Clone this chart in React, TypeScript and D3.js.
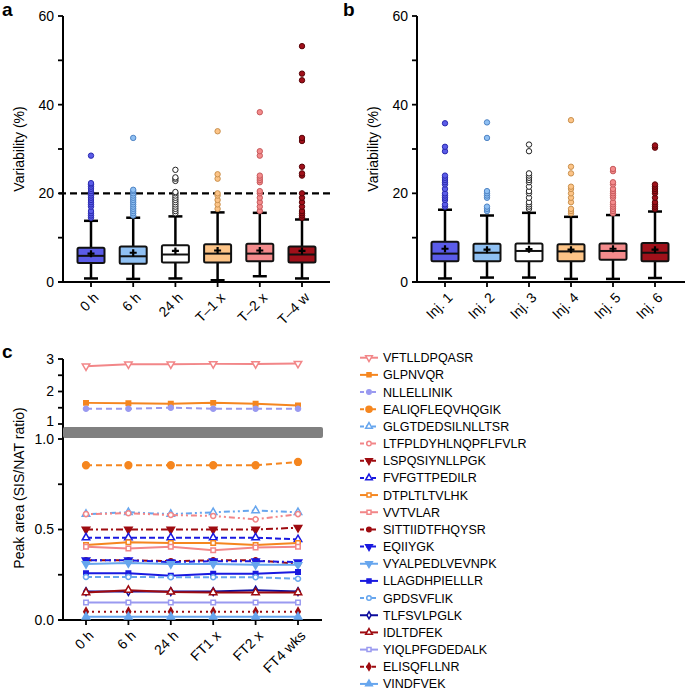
import * as d3 from "d3";

const FONT = "'Liberation Sans', Arial, Helvetica, sans-serif";

// panel a / b: box plot categories, colours and summary stats
const catsA = ["0 h", "6 h", "24 h", "T\u20131 x", "T\u20132 x", "T\u20134 w"];
const catsB = ["Inj. 1", "Inj. 2", "Inj. 3", "Inj. 4", "Inj. 5", "Inj. 6"];
const boxFill = ["#5b5ce8", "#8fc0f3", "#ffffff", "#fdc487", "#f48b8c", "#a0101a"];
const dotStroke = ["#2c2cb0", "#4f84c4", "#222222", "#c9914f", "#c65a5c", "#5a0408"];

// [low whisker, q1, median, q3, high whisker, mean]
const statsA = [
  [0.8, 4.3, 5.9, 7.7, 13.8, 6.4],
  [0.7, 4.1, 5.8, 8.0, 14.5, 6.6],
  [0.8, 4.4, 6.2, 8.3, 14.8, 7.0],
  [0.4, 4.4, 6.4, 8.5, 15.7, 7.1],
  [1.3, 4.7, 6.4, 8.6, 15.6, 7.1],
  [0.8, 4.4, 6.2, 8.0, 14.1, 7.0],
];
const outliersA = [
  [14.5, 15, 15.5, 16, 17, 17.5, 18, 18.5, 19, 19.5, 20, 20.5, 21, 21.5, 22, 22.3, 28.5],
  [15, 15.5, 16, 16.5, 17, 17.5, 18, 18.5, 19, 19.5, 20, 20.5, 20.8, 32.5],
  [15.5, 16, 16.5, 17, 17.5, 18, 18.5, 19, 19.5, 20, 20.3, 22.8, 23.3, 23.6, 25.3],
  [16.5, 17.5, 18.5, 19.5, 20, 23.3, 24.3, 34],
  [16, 17, 18, 19, 20, 20.5, 22.5, 23, 23.5, 24, 28.5, 29.5, 38.3],
  [14.5, 15, 15.5, 16, 17, 18, 19, 20, 24, 24.5, 26, 31.8, 32.5, 45.5, 47, 53.2],
];
const statsB = [
  [0.8, 4.7, 6.4, 9.1, 16.3, 7.5],
  [1.0, 4.7, 6.6, 8.6, 15.0, 7.3],
  [1.0, 4.7, 7.0, 8.7, 15.6, 7.4],
  [0.7, 4.7, 6.9, 8.5, 14.7, 7.3],
  [0.7, 5.0, 7.0, 8.7, 15.1, 7.5],
  [0.9, 4.7, 6.6, 8.8, 15.9, 7.3],
];
const outliersB = [
  [17, 17.5, 18.5, 19, 19.5, 20, 21, 22, 22.5, 23, 23.5, 24, 29.5, 30.5, 35.8],
  [16, 16.5, 17, 19, 19.5, 20, 20.5, 32.5, 36],
  [16.5, 17, 17.5, 18, 19, 20, 20.5, 21.5, 22.5, 23, 23.5, 24, 24.5, 29.5, 31],
  [15.5, 16, 16.5, 18, 19, 20, 21, 21.5, 24.5, 26, 36.5],
  [15.5, 16, 16.5, 17, 17.5, 18, 19, 19.5, 20, 20.5, 21, 22, 22.5, 25, 25.5],
  [16.5, 17, 17.5, 18, 19, 20, 20.5, 21, 21.5, 22, 30.3, 30.8],
];

// panel c: peptide lines
const catsC = ["0 h", "6 h", "24 h", "FT1 x", "FT2 x", "FT4 wks"];
const PINK = "#f28688", ORANGE = "#f5861f", LAV = "#9a9af0", LBLUE = "#67a6ee",
  DRED = "#9e0b10", BLUE = "#1a1ae0", NAVY = "#0c0c9c";
const peptides = ["VFTLLDPQASR", "GLPNVQR", "NLLELLINIK", "EALIQFLEQVHQGIK", "GLGTDEDSILNLLTSR",
  "LTFPLDYHLNQPFLFVLR", "LSPQSIYNLLPGK", "FVFGTTPEDILR", "DTPLTLTVLHK", "VVTVLAR",
  "SITTIIDTFHQYSR", "EQIIYGK", "VYALPEDLVEVNPK", "LLAGDHPIELLLR", "GPDSVFLIK",
  "TLFSVLPGLK", "IDLTDFEK", "YIQLPFGDEDALK", "ELISQFLLNR", "VINDFVEK"];
const pepColor = [PINK, ORANGE, LAV, ORANGE, LBLUE, PINK, DRED, BLUE, ORANGE, PINK,
  DRED, BLUE, LBLUE, BLUE, LBLUE, NAVY, DRED, LAV, DRED, LBLUE];
const pepDash = ["", "", "6 4", "6 4", "2 3 6 3 2 3", "2 3 2 3 6 3", "7 3 2 3", "6 3", "", "",
  "6 3 2 3", "2 3 6 3", "", "", "6 3", "", "", "", "2 4", ""];
const pepSymbol = ["tri-down", "square", "circle", "circle", "tri", "circle", "tri-down", "tri", "square", "square",
  "circle", "tri-down", "tri-down", "square", "circle", "diamond", "tri", "square", "diamond", "tri"];
const pepFilled = [false, true, true, true, false, false, true, false, false, false,
  true, true, true, true, false, false, false, false, true, true];
const pepValues = [
  [2.78, 2.84, 2.84, 2.85, 2.85, 2.86],
  [1.65, 1.64, 1.62, 1.65, 1.62, 1.57],
  [1.47, 1.47, 1.5, 1.47, 1.47, 1.47],
  [0.855, 0.855, 0.855, 0.855, 0.855, 0.873],
  [0.585, 0.595, 0.585, 0.595, 0.605, 0.595],
  [0.585, 0.59, 0.58, 0.575, 0.556, 0.585],
  [0.5, 0.5, 0.5, 0.5, 0.5, 0.51],
  [0.455, 0.455, 0.455, 0.455, 0.455, 0.445],
  [0.415, 0.43, 0.425, 0.425, 0.415, 0.425],
  [0.405, 0.395, 0.405, 0.385, 0.4, 0.405],
  [0.33, 0.33, 0.325, 0.33, 0.33, 0.31],
  [0.33, 0.33, 0.32, 0.325, 0.325, 0.32],
  [0.31, 0.315, 0.31, 0.31, 0.305, 0.305],
  [0.258, 0.258, 0.245, 0.255, 0.255, 0.265],
  [0.238, 0.238, 0.236, 0.236, 0.236, 0.228],
  [0.157, 0.157, 0.157, 0.157, 0.165, 0.157],
  [0.152, 0.165, 0.155, 0.152, 0.152, 0.152],
  [0.097, 0.097, 0.097, 0.097, 0.097, 0.097],
  [0.046, 0.046, 0.046, 0.046, 0.046, 0.046],
  [0.018, 0.018, 0.018, 0.018, 0.018, 0.018],
];

const yBox = d3.scaleLinear().domain([0, 60]).range([282, 16]);
const xA = d3.scalePoint<string>().domain(catsA).range([91, 302]);
const xB = d3.scalePoint<string>().domain(catsB).range([445, 655]);
const xC = d3.scalePoint<string>().domain(catsC).range([86, 298]);
const yLow = d3.scaleLinear().domain([0, 1]).range([620, 439]);
const yUp = d3.scaleLinear().domain([1, 3]).range([424, 359]);
const yC = (v: number) => (v > 1.05 ? yUp(v) : yLow(v));

function symPath(kind: string, size: number) {
  const t = kind === "square" ? d3.symbolSquare : kind === "circle" ? d3.symbolCircle
    : kind === "diamond" ? d3.symbolDiamond : d3.symbolTriangle;
  return d3.symbol().type(t).size(size)() || "";
}

function Marker({ x, y, i, scale = 1 }: { x: number; y: number; i: number; scale?: number }) {
  const kind = pepSymbol[i];
  const base = i === 3 ? 36 : kind === "tri" || kind === "tri-down" ? 24 : kind === "diamond" ? 18 : 20;
  const rot = kind === "tri-down" ? " rotate(180)" : "";
  return (
    <path d={symPath(kind, base * scale)} transform={`translate(${x},${y})${rot}`}
      fill={pepFilled[i] ? pepColor[i] : "#fff"} stroke={pepColor[i]} strokeWidth={1.5} />
  );
}

function BoxPanel({ cats, x, stats, outliers, axisX, axisEnd, label, dashed }: any) {
  const bw = 27;
  const ticks = [0, 10, 20, 30, 40, 50, 60];
  return (
    <g>
      <line x1={axisX} x2={axisX} y1={yBox(60)} y2={yBox(0)} stroke="#000" strokeWidth={2} />
      <line x1={axisX - 5} x2={axisEnd} y1={yBox(0)} y2={yBox(0)} stroke="#000" strokeWidth={2} />
      {ticks.map((t) => (
        <g key={t}>
          <line x1={axisX - 5} x2={axisX} y1={yBox(t)} y2={yBox(t)} stroke="#000" strokeWidth={1.8} />
          {t % 20 === 0 && (
            <text x={axisX - 9} y={yBox(t)} dy="0.35em" textAnchor="end" fontSize={14}>{t}</text>
          )}
        </g>
      ))}
      <text transform={`translate(${axisX - 44},${yBox(30)}) rotate(-90)`} textAnchor="middle" dy="0.35em" fontSize={14}>
        Variability (%)
      </text>
      {dashed && (
        <line x1={axisX - 4} x2={axisEnd} y1={yBox(20)} y2={yBox(20)} stroke="#000" strokeWidth={2.2} strokeDasharray="7 4" />
      )}
      {cats.map((c: string, i: number) => {
        const cx = x(c) as number;
        const [lo, q1, med, q3, hi, mean] = stats[i];
        return (
          <g key={c}>
            <line x1={cx} x2={cx} y1={yBox(0)} y2={yBox(0) + 5} stroke="#000" strokeWidth={1.8} />
            <line x1={cx} x2={cx} y1={yBox(lo)} y2={yBox(hi)} stroke="#000" strokeWidth={2.5} />
            <line x1={cx - 7} x2={cx + 7} y1={yBox(lo)} y2={yBox(lo)} stroke="#000" strokeWidth={2.5} />
            <line x1={cx - 7} x2={cx + 7} y1={yBox(hi)} y2={yBox(hi)} stroke="#000" strokeWidth={2.5} />
            <rect x={cx - bw / 2} y={yBox(q3)} width={bw} height={yBox(q1) - yBox(q3)} rx={1.5}
              fill={boxFill[i]} stroke="#111" strokeWidth={2} />
            <line x1={cx - bw / 2} x2={cx + bw / 2} y1={yBox(med)} y2={yBox(med)} stroke="#111" strokeWidth={2} />
            <path d={`M${cx - 3.5},${yBox(mean)}H${cx + 3.5}M${cx},${yBox(mean) - 3.5}V${yBox(mean) + 3.5}`}
              stroke="#000" strokeWidth={2.2} />
            {outliers[i].map((v: number, k: number) => (
              <circle key={k} cx={cx} cy={yBox(v)} r={2.7} fill={boxFill[i]} stroke={dotStroke[i]} strokeWidth={1} />
            ))}
            <text transform={`translate(${cx + 5},${yBox(0) + 13}) rotate(-45)`} textAnchor="end"
              dy="0.35em" fontSize={14}>{c}</text>
          </g>
        );
      })}
      <text x={label.x} y={label.y} fontWeight="bold" fontSize={19}>{label.t}</text>
    </g>
  );
}

function LinePanel() {
  const axisX = 63;
  const line = d3.line<number>().x((_, i) => xC(catsC[i]) as number).y((v) => yC(v));
  const lowTicks = [0, 0.25, 0.5, 0.75, 1.0];
  const upTicks = [1, 1.5, 2, 2.5, 3];
  return (
    <g>
      <text x={2} y={358} fontWeight="bold" fontSize={19}>c</text>
      <line x1={axisX} x2={axisX} y1={yUp(3)} y2={yLow(0)} stroke="#000" strokeWidth={2} />
      <line x1={axisX - 5} x2={322} y1={yLow(0)} y2={yLow(0)} stroke="#000" strokeWidth={2} />
      {lowTicks.map((t) => (
        <g key={"l" + t}>
          <line x1={axisX - 5} x2={axisX} y1={yLow(t)} y2={yLow(t)} stroke="#000" strokeWidth={1.8} />
          {t % 0.5 === 0 && (
            <text x={axisX - 9} y={yLow(t)} dy="0.35em" textAnchor="end" fontSize={14}>{t.toFixed(1)}</text>
          )}
        </g>
      ))}
      {upTicks.map((t) => (
        <g key={"u" + t}>
          <line x1={axisX - 5} x2={axisX} y1={yUp(t)} y2={yUp(t)} stroke="#000" strokeWidth={1.8} />
          {t % 1 === 0 && (
            <text x={axisX - 9} y={yUp(t)} dy={t === 1 ? "0.15em" : "0.35em"} textAnchor="end" fontSize={14}>{t}</text>
          )}
        </g>
      ))}
      <rect x={axisX} y={427} width={260} height={11} rx={2} fill="#808080" />
      <text transform={`translate(19,488) rotate(-90)`} textAnchor="middle" dy="0.35em" fontSize={14}>
        Peak area (SIS/NAT ratio)
      </text>
      {catsC.map((c) => (
        <g key={c}>
          <line x1={xC(c)} x2={xC(c)} y1={yLow(0)} y2={yLow(0) + 5} stroke="#000" strokeWidth={1.8} />
          <text transform={`translate(${(xC(c) as number) + 5},${yLow(0) + 13}) rotate(-45)`} textAnchor="end"
            dy="0.35em" fontSize={14}>{c}</text>
        </g>
      ))}
      {pepValues.map((vals, i) => (
        <g key={peptides[i]}>
          <path d={line(vals) || ""} fill="none" stroke={pepColor[i]} strokeWidth={2}
            strokeDasharray={pepDash[i] || undefined} />
          {vals.map((v, k) => (
            <Marker key={k} x={xC(catsC[k]) as number} y={yC(v)} i={i} />
          ))}
        </g>
      ))}
      {peptides.map((p, i) => {
        const ly = 357.7 + i * 17.17;
        return (
          <g key={"lg" + p}>
            <line x1={360} x2={378} y1={ly} y2={ly} stroke={pepColor[i]} strokeWidth={2}
              strokeDasharray={pepDash[i] ? "4 2" : undefined} />
            <Marker x={369} y={ly} i={i} scale={0.8} />
            <text x={383} y={ly} dy="0.36em" fontSize={12.5}>{p}</text>
          </g>
        );
      })}
    </g>
  );
}

export default function App() {
  return (
    <svg width={685} height={690} style={{ position: "absolute", left: 0, top: 0, background: "#fff" }}
      fontFamily={FONT}>
      <rect width={685} height={690} fill="#fff" />
      <BoxPanel cats={catsA} x={xA} stats={statsA} outliers={outliersA} axisX={63} axisEnd={330}
        label={{ x: 2, y: 16, t: "a" }} dashed />
      <BoxPanel cats={catsB} x={xB} stats={statsB} outliers={outliersB} axisX={417} axisEnd={685}
        label={{ x: 343, y: 16, t: "b" }} />
      <LinePanel />
    </svg>
  );
}
